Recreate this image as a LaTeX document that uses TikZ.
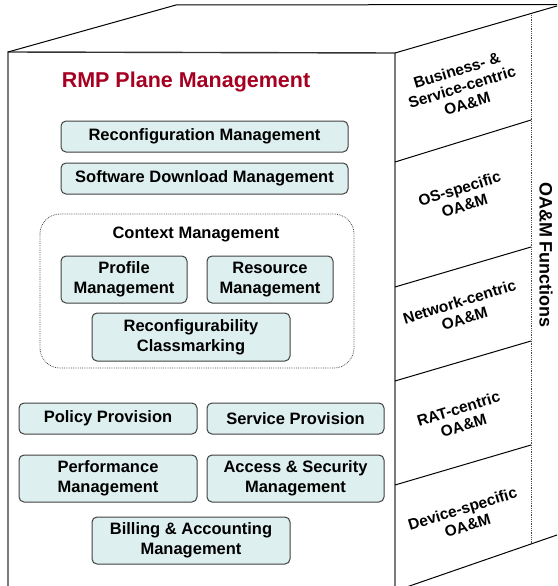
\documentclass[tikz,border=0pt]{standalone}
\usepackage{fontspec}
\setmainfont{Liberation Sans}
\usetikzlibrary{calc}

\definecolor{boxfill}{RGB}{222,239,239}
\definecolor{titlered}{RGB}{165,0,33}
\newcommand{\mgmtfont}{\fontsize{16.5}{20}\selectfont\bfseries}
\newcommand{\oamfont}{\fontsize{15.5}{17.5}\selectfont\bfseries}

\begin{document}
\begin{tikzpicture}[x=1pt,y=-1pt,
  mgmtbox/.style={draw=black!75, line width=1pt, fill=boxfill, rounded corners=5pt,
    align=center, inner sep=0pt, font=\mgmtfont},
  ctxgroup/.style={draw=black!70, densely dotted, line width=0.8pt, rounded corners=20pt},
  sidelabel/.style={rotate=17, align=center, font=\oamfont},
  cubeline/.style={draw=black!80, line width=1.4pt},
  sepline/.style={draw=black, line width=1pt}]

\useasboundingbox (0,0) rectangle (557,586);
\clip (0,0) rectangle (557,586);

% Define points
\coordinate (FTL) at (8,52);
\coordinate (FTR) at (395,53);
\coordinate (BTL) at (176,5);
\coordinate (BTR) at (562,4.5);
\coordinate (FBL) at (8,600);
\coordinate (FBR) at (395,600);

% Draw cube
\draw[cubeline] (FBL) -- (FTL) -- (FTR) -- (FBR);
\draw[sepline] (FTL) -- (BTL) -- (BTR);
\draw[sepline] (FTR) -- (BTR);
\draw[sepline] (395,591) -- (557,535);

% Side face sections
\draw[sepline] (395,162) -- (531,120);
\draw[sepline] (395,287) -- (531,247);
\draw[sepline] (395,381) -- (531,341);
\draw[sepline] (395,485) -- (531,445);
\draw[black!70, densely dotted, line width=0.8pt] (531,15) -- (531,543);

% Side labels
\node[sidelabel] (business) at (462,87) {Business- \&\\Service-centric\\OA\&M};
\node[sidelabel] (os) at (462,197) {OS-specific\\OA\&M};
\node[sidelabel] (network) at (462,310) {Network-centric\\OA\&M};
\node[sidelabel] (rat) at (461,417) {RAT-centric\\OA\&M};
\node[sidelabel] (device) at (465,517) {Device-specific\\OA\&M};
\node[rotate=-90, font=\fontsize{18}{20}\selectfont\bfseries] (oam) at (546,255) {OA\&M Functions};

% Title
\node[anchor=base, text=titlered, font=\fontsize{21.5}{24}\selectfont\bfseries] (title) at (186,88) {RMP Plane Management};

% Management boxes
\node[mgmtbox, minimum width=287pt, minimum height=31pt] (reconf) at (204.5,136.5) {Reconfiguration Management};
\node[mgmtbox, minimum width=287pt, minimum height=31pt] (swdl) at (204.5,178.5) {Software Download Management};

% Context management group
\draw[ctxgroup] (40,214) rectangle (354,368);
\node[font=\mgmtfont] (ctxtitle) at (196,234) {Context Management};
\node[mgmtbox, minimum width=126pt, minimum height=47pt] (profile) at (124,279.5) {Profile\\Management};
\node[mgmtbox, minimum width=126pt, minimum height=47pt] (resource) at (270,279.5) {Resource\\Management};
\node[mgmtbox, minimum width=198pt, minimum height=48pt] (classmark) at (191,337) {Reconfigurability\\Classmarking};

% Lower boxes
\node[mgmtbox, minimum width=178pt, minimum height=31pt] (policy) at (108,418.5) {Policy Provision};
\node[mgmtbox, minimum width=177pt, minimum height=31pt] (service) at (295.5,418.5) {Service Provision};
\node[mgmtbox, minimum width=178pt, minimum height=47pt] (perf) at (108,478.5) {Performance\\Management};
\node[mgmtbox, minimum width=177pt, minimum height=47pt] (access) at (295.5,478.5) {Access \& Security\\Management};
\node[mgmtbox, minimum width=198pt, minimum height=47pt] (billing) at (191,540.5) {Billing \& Accounting\\Management};

\end{tikzpicture}
\end{document}
